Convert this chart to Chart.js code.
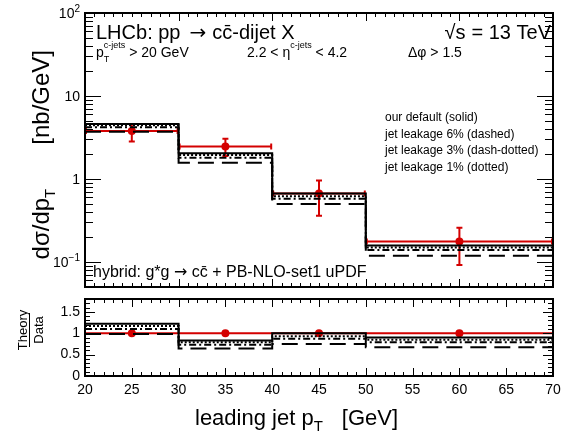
<!DOCTYPE html>
<html>
<head>
<meta charset="utf-8">
<script src="https://cdn.jsdelivr.net/npm/chart.js@4/dist/chart.umd.min.js"></script>
<style>
  html, body { margin: 0; padding: 0; background: #fff; }
  #wrap { position: relative; width: 561px; height: 437px; overflow: hidden; }
  #topCanvas { position: absolute; left: 0; top: 0; }
  #ratioCanvas { position: absolute; left: 0; top: 290px; }
</style>
</head>
<body>
<div id="wrap">
  <canvas id="topCanvas" width="561" height="300"></canvas>
  <canvas id="ratioCanvas" width="561" height="147"></canvas>
</div>
<script>
// ---- measured cross section, leading jet pT bins ----
const binEdges = [20, 30, 40, 50, 70];
const binCentres = [25, 35, 45, 60];
const dataValues = [3.8, 2.46, 0.67, 0.177];
const dataErrUp = [0.8, 0.59, 0.29, 0.081];
const dataErrDown = [0.97, 0.57, 0.31, 0.085];

// ---- hybrid predictions [nb/GeV] ----
const predDefault = [4.6, 2.05, 0.67, 0.158];
const predLeak1 = [4.45, 1.94, 0.62, 0.150];
const predLeak3 = [4.2, 1.80, 0.58, 0.140];
const predLeak6 = [3.72, 1.57, 0.50, 0.119];

// ---- Theory / Data ----
const ratioDefault = [1.22, 0.83, 1.00, 0.90];
const ratioLeak1 = [1.17, 0.79, 0.93, 0.85];
const ratioLeak3 = [1.10, 0.73, 0.87, 0.79];
const ratioLeak6 = [0.98, 0.64, 0.75, 0.67];
const ratioData = [1, 1, 1, 1];

// ---- axis ticks ----
const xTickLabels = [20, 25, 30, 35, 40, 45, 50, 55, 60, 65, 70];
const yDecadeLabels = [0.1, 1, 10, 100];
const ratioTickLabels = [0, 0.5, 1, 1.5];

const FONT = "'Liberation Sans', Arial, Helvetica, sans-serif";
const ARROW_FONT = "'DejaVu Sans', sans-serif";
const RED = '#d40000';

// step-histogram points from bin edges
function histPoints(vals) {
  return binEdges.map((e, i) => ({ x: e, y: vals[Math.min(i, vals.length - 1)] }));
}
function histDataset(vals, dash) {
  return {
    type: 'line', data: histPoints(vals), stepped: 'before',
    borderColor: '#000', borderWidth: 2, borderDash: dash,
    borderCapStyle: 'butt', pointRadius: 0, fill: false, clip: 1
  };
}
function markerDataset(vals) {
  return {
    type: 'scatter', data: binCentres.map((c, i) => ({ x: c, y: vals[i] })),
    backgroundColor: RED, borderColor: RED, pointRadius: 4, borderWidth: 0,
    showLine: false, isData: true
  };
}

// rich text: parts [{t, size, dy, fam, gap, stackWith}] drawn left to right
function partFont(p) { return p.size + 'px ' + (p.fam || FONT); }
function richWidth(ctx, parts) {
  let cx = 0, lastX = 0;
  for (const p of parts) {
    if (p.gap) { cx += p.gap; continue; }
    ctx.font = partFont(p);
    const w = ctx.measureText(p.t).width;
    if (p.stackWith) { cx = Math.max(cx, lastX + w); continue; }
    lastX = cx; cx += w;
  }
  return cx;
}
function drawRich(ctx, x, y, parts) {
  let cx = x, lastX = x;
  for (const p of parts) {
    if (p.gap) { cx += p.gap; continue; }
    ctx.font = partFont(p);
    const w = ctx.measureText(p.t).width;
    if (p.stackWith) {
      // shares the horizontal slot of the previous part (sub/superscript pair)
      ctx.fillText(p.t, lastX, y + (p.dy || 0));
      cx = Math.max(cx, lastX + w);
      continue;
    }
    lastX = cx;
    ctx.fillText(p.t, cx, y + (p.dy || 0));
    cx += w;
  }
  return cx;
}

// inward ticks on all four sides of the plot frame
function drawFrameAndTicks(chart, cfg) {
  const { ctx, chartArea: a, scales } = chart;
  const xs = scales.x, ys = scales.y;
  ctx.save();
  ctx.strokeStyle = '#000';
  ctx.lineWidth = 1;
  ctx.beginPath();
  for (const t of cfg.xTicks) {
    const px = Math.round(xs.getPixelForValue(t.v)) + 0.5;
    ctx.moveTo(px, a.bottom); ctx.lineTo(px, a.bottom - t.len);
    ctx.moveTo(px, a.top); ctx.lineTo(px, a.top + t.len);
  }
  for (const t of cfg.yTicks) {
    const py = Math.round(ys.getPixelForValue(t.v)) + 0.5;
    ctx.moveTo(a.left, py); ctx.lineTo(a.left + t.len, py);
    ctx.moveTo(a.right, py); ctx.lineTo(a.right - t.len, py);
  }
  ctx.stroke();
  ctx.lineWidth = 2;
  ctx.strokeRect(a.left, a.top, a.right - a.left, a.bottom - a.top);
  ctx.restore();
}

// error bars for the measured points
const errorBarPlugin = {
  id: 'errorBars',
  beforeDatasetDraw(chart, args, opts) {
    const ds = chart.data.datasets[args.index];
    if (!ds.isData) return;
    const { ctx, scales } = chart;
    const xs = scales.x, ys = scales.y;
    ctx.save();
    ctx.strokeStyle = RED;
    ctx.lineWidth = 2;
    ctx.beginPath();
    for (let i = 0; i < binCentres.length; i++) {
      const y = ys.getPixelForValue(ds.data[i].y);
      const xl = xs.getPixelForValue(binEdges[i]);
      const xr = xs.getPixelForValue(binEdges[i + 1]);
      const xc = xs.getPixelForValue(binCentres[i]);
      ctx.moveTo(xl, y); ctx.lineTo(xr, y);
      if (opts.withErrors) {
        const yu = ys.getPixelForValue(ds.data[i].y + dataErrUp[i]);
        const yd = ys.getPixelForValue(ds.data[i].y - dataErrDown[i]);
        ctx.moveTo(xc, yu); ctx.lineTo(xc, yd);
        ctx.moveTo(xc - 3, yu); ctx.lineTo(xc + 3, yu);
        ctx.moveTo(xc - 3, yd); ctx.lineTo(xc + 3, yd);
        ctx.moveTo(xl + 1, y - 3); ctx.lineTo(xl + 1, y + 3);
        ctx.moveTo(xr - 1, y - 3); ctx.lineTo(xr - 1, y + 3);
      }
    }
    ctx.stroke();
    ctx.restore();
  }
};

// ---- upper panel ----
const topTicksX = [];
for (let v = 20; v <= 70; v++) topTicksX.push({ v, len: v % 10 === 0 ? 8 : 4 });
const topTicksY = [];
for (let e = -2; e <= 2; e++) {
  for (let k = 1; k <= 9; k++) {
    const v = k * Math.pow(10, e);
    if (v >= 0.05 && v <= 100) topTicksY.push({ v, len: k === 1 ? 16 : 8 });
  }
}

const topDecor = {
  id: 'topDecor',
  afterDraw(chart) {
    drawFrameAndTicks(chart, { xTicks: topTicksX, yTicks: topTicksY });
    const { ctx, scales } = chart;
    ctx.save();
    ctx.fillStyle = '#000';
    ctx.textBaseline = 'alphabetic';
    ctx.textAlign = 'left';
    // y tick labels
    for (const v of yDecadeLabels) {
      const py = scales.y.getPixelForValue(v);
      let parts;
      if (v === 100) parts = [{ t: '10', size: 14 }, { t: '2', size: 10, dy: -6 }];
      else if (v === 10) parts = [{ t: '10', size: 14 }];
      else if (v === 1) parts = [{ t: '1', size: 14 }];
      else parts = [{ t: '10', size: 14 }, { t: '\u22121', size: 10, dy: -6 }];
      const w = richWidth(ctx, parts);
      drawRich(ctx, 80 - w, py + 5, parts);
    }
    // y axis title
    ctx.save();
    ctx.translate(49, 50);
    ctx.rotate(-Math.PI / 2);
    const ytParts = [
      { t: 'd\u03c3/dp', size: 24 },
      { t: 'T', size: 15, dy: 6 },
      { gap: 44 },
      { t: '[nb/GeV]', size: 24 }
    ];
    const ytw = richWidth(ctx, ytParts);
    drawRich(ctx, -ytw, 0, ytParts);
    ctx.restore();

    // headline
    drawRich(ctx, 96, 39, [
      { t: 'LHCb: pp', size: 20 },
      { gap: 9 },
      { t: '\u2192', size: 20, fam: ARROW_FONT },
      { gap: 6 },
      { t: 'cc\u0304-dijet X', size: 20 }
    ]);
    const sqParts = [{ t: '\u221as', size: 20 }, { gap: 6 }, { t: '= 13 TeV', size: 20 }];
    drawRich(ctx, 551 - richWidth(ctx, sqParts), 39, sqParts);

    // selection cuts
    drawRich(ctx, 96, 57, [
      { t: 'p', size: 14 },
      { t: 'c-jets', size: 9, dy: -9 },
      { t: 'T', size: 9, dy: 5, stackWith: true },
      { t: ' > 20 GeV', size: 14 }
    ]);
    drawRich(ctx, 247, 57, [
      { t: '2.2 < \u03b7', size: 14 },
      { t: 'c-jets', size: 9, dy: -9 },
      { t: ' < 4.2', size: 14 }
    ]);
    ctx.font = '14px ' + FONT;
    ctx.fillText('\u0394\u03c6 > 1.5', 408, 57);

    // line-style key
    ctx.font = '12px ' + FONT;
    const keyLines = ['our default (solid)', 'jet leakage 6% (dashed)', 'jet leakage 3% (dash-dotted)', 'jet leakage 1% (dotted)'];
    keyLines.forEach((s, i) => ctx.fillText(s, 385, 121 + i * 16.5));

    // model label
    drawRich(ctx, 93, 277, [
      { t: 'hybrid: g*g ', size: 16 },
      { t: '\u2192', size: 16, fam: ARROW_FONT },
      { t: ' cc\u0304 + PB-NLO-set1 uPDF', size: 16 }
    ]);
    ctx.restore();
  }
};

new Chart(document.getElementById('topCanvas'), {
  data: {
    datasets: [
      histDataset(predLeak6, [16, 8]),
      histDataset(predLeak3, [7, 3, 2, 3]),
      histDataset(predLeak1, [2, 2]),
      histDataset(predDefault, []),
      markerDataset(dataValues)
    ]
  },
  options: {
    responsive: false,
    animation: false,
    events: [],
    layout: { padding: { left: 0, right: 8, top: 13, bottom: 13 } },
    plugins: { legend: { display: false }, tooltip: { enabled: false }, errorBars: { withErrors: true } },
    scales: {
      x: { type: 'linear', min: 20, max: 70, display: false },
      y: {
        type: 'logarithmic', min: 0.05, max: 100,
        grid: { display: false, drawTicks: false }, border: { display: false },
        ticks: { display: false },
        afterFit(s) { s.width = 85; s.paddingTop = 0; s.paddingBottom = 0; }
      }
    }
  },
  plugins: [errorBarPlugin, topDecor]
});

// ---- ratio panel ----
const ratioTicksX = [];
for (let v = 20; v <= 70; v++) ratioTicksX.push({ v, len: v % 5 === 0 ? 8 : 4 });
const ratioTicksY = [];
for (let i = 0; i <= 18; i++) ratioTicksY.push({ v: i / 10, len: i % 5 === 0 ? 10 : 5 });

const ratioDecor = {
  id: 'ratioDecor',
  afterDraw(chart) {
    drawFrameAndTicks(chart, { xTicks: ratioTicksX, yTicks: ratioTicksY });
    const { ctx } = chart;
    ctx.save();
    ctx.fillStyle = '#000';
    ctx.strokeStyle = '#000';
    // Theory / Data fraction, rotated
    ctx.save();
    ctx.translate(31, 40);
    ctx.rotate(-Math.PI / 2);
    ctx.font = '13px ' + FONT;
    ctx.textAlign = 'center';
    ctx.fillText('Theory', 0, -4);
    ctx.fillText('Data', 0, 12);
    ctx.lineWidth = 1;
    ctx.beginPath();
    ctx.moveTo(-17, -1.5); ctx.lineTo(17, -1.5);
    ctx.stroke();
    ctx.restore();
    // x axis title
    ctx.textAlign = 'left';
    drawRich(ctx, 195, 135, [
      { t: 'leading jet p', size: 22 },
      { t: 'T', size: 15, dy: 6 },
      { gap: 19 },
      { t: '[GeV]', size: 22 }
    ]);
    ctx.restore();
  }
};

new Chart(document.getElementById('ratioCanvas'), {
  data: {
    datasets: [
      histDataset(ratioLeak6, [16, 8]),
      histDataset(ratioLeak3, [7, 3, 2, 3]),
      histDataset(ratioLeak1, [2, 2]),
      histDataset(ratioDefault, []),
      markerDataset(ratioData)
    ]
  },
  options: {
    responsive: false,
    animation: false,
    events: [],
    layout: { padding: { left: 0, right: 8, top: 9, bottom: 0 } },
    plugins: { legend: { display: false }, tooltip: { enabled: false }, errorBars: { withErrors: false } },
    scales: {
      x: {
        type: 'linear', min: 20, max: 70,
        grid: { display: false, drawTicks: false }, border: { display: false },
        afterBuildTicks(s) { s.ticks = xTickLabels.map(v => ({ value: v })); },
        ticks: { color: '#000', font: { family: FONT, size: 14 }, padding: 6, maxRotation: 0, autoSkip: false, callback: v => String(v) },
        afterFit(s) { s.height = 61; s.paddingLeft = 0; s.paddingRight = 0; }
      },
      y: {
        type: 'linear', min: 0, max: 1.8,
        grid: { display: false, drawTicks: false }, border: { display: false },
        afterBuildTicks(s) { s.ticks = ratioTickLabels.map(v => ({ value: v })); },
        ticks: { color: '#000', font: { family: FONT, size: 14 }, padding: 5, callback: v => String(v) },
        afterFit(s) { s.width = 85; s.paddingTop = 0; s.paddingBottom = 0; }
      }
    }
  },
  plugins: [errorBarPlugin, ratioDecor]
});
</script>
</body>
</html>
